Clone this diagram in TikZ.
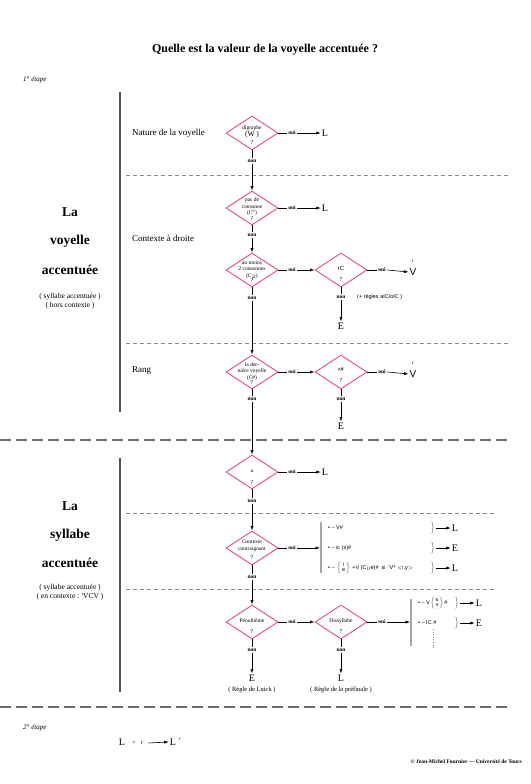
\documentclass[tikz,border=0pt]{standalone}
\usepackage{fontspec}
\setmainfont{Liberation Serif}
\setsansfont{Liberation Sans}
\usetikzlibrary{shapes.geometric,arrows.meta}
\definecolor{dpink}{RGB}{232,70,145}
\definecolor{barcol}{RGB}{85,85,85}
\definecolor{dashcol}{RGB}{140,140,140}
\newcommand{\myfs}[1]{\fontsize{#1}{#1}\selectfont}
\newcommand{\stk}[2]{$\color{gray}\left\{\color{black}\begin{array}{@{}c@{}}\mbox{#1}\\[-1.5pt]\mbox{#2}\end{array}\color{gray}\right\}$}
\newcommand{\bigrb}{$\color{gray}\left.\vphantom{\begin{array}{c}x\\x\end{array}}\right\}$}
\begin{document}
\begin{tikzpicture}[x=1pt,y=-1pt,
  dmd/.style={draw=dpink,line width=0.9pt,shape=diamond,minimum width=52pt,minimum height=34pt,inner sep=0pt},
  dtxt/.style={font=\fontsize{5.5}{6.5}\selectfont,align=center,inner sep=0pt},
  qm/.style={font=\fontsize{6}{6}\selectfont,inner sep=0pt},
  ouinon/.style={font=\fontsize{5.5}{6}\selectfont\bfseries,inner sep=1.5pt},
  res/.style={font=\fontsize{10}{10}\selectfont,inner sep=1pt},
  vres/.style={font=\sffamily\fontsize{10}{10}\selectfont,inner sep=1pt},
  sup/.style={font=\fontsize{5}{5}\selectfont,inner sep=0pt},
  lbl/.style={font=\fontsize{9}{10}\selectfont,anchor=west,inner sep=0pt},
  big/.style={font=\fontsize{13.5}{14}\selectfont\bfseries,inner sep=0pt},
  small/.style={font=\fontsize{7.5}{8}\selectfont,inner sep=0pt},
  note/.style={font=\fontsize{6.5}{7}\selectfont,inner sep=0pt},
  arr/.style={-{Latex[length=4.5pt,width=3.2pt]},line width=0.6pt},
  ln/.style={line width=0.6pt},
  thindash/.style={draw=dashcol,line width=0.7pt,dash pattern=on 4pt off 3pt},
  thickdash/.style={draw=barcol!85,line width=1.6pt,dash pattern=on 11pt off 5pt},
  vbar/.style={draw=barcol,line width=2pt},
  rbar/.style={draw=gray!70,line width=1.3pt},
  rulet/.style={font=\sffamily\fontsize{5.5}{6.5}\selectfont,anchor=west,inner sep=0pt},
  brc/.style={font=\sffamily\fontsize{5.5}{6.5}\selectfont,inner sep=0pt},
  ]
\useasboundingbox (0,0) rectangle (530,784);

% title and step
\node[font=\bfseries\myfs{12}] (title) at (265,50) {Quelle est la valeur de la voyelle accentuée ?};
\node[font=\itshape\myfs{7},anchor=west,inner sep=0pt] (et1) at (23,80) {1° étape};

% bars and separators
\coordinate (vb1t) at (120,92); \coordinate (vb1b) at (120,412);
\draw[vbar] (vb1t) -- (vb1b);
\coordinate (vb2t) at (120,458); \coordinate (vb2b) at (120,692);
\draw[vbar] (vb2t) -- (vb2b);
\coordinate (s1a) at (126,175); \coordinate (s1b) at (510,175);
\draw[thindash] (s1a) -- (s1b);
\coordinate (s2a) at (126,343); \coordinate (s2b) at (510,343);
\draw[thindash] (s2a) -- (s2b);
\coordinate (s3a) at (0,440); \coordinate (s3b) at (510,440);
\draw[thickdash] (s3a) -- (s3b);
\coordinate (s4a) at (126,513); \coordinate (s4b) at (497,513);
\draw[thindash] (s4a) -- (s4b);
\coordinate (s5a) at (126,589); \coordinate (s5b) at (497,589);
\draw[thindash] (s5a) -- (s5b);
\coordinate (s6a) at (0,707); \coordinate (s6b) at (510,707);
\draw[thickdash] (s6a) -- (s6b);

% left labels
\node[big] (la1) at (70,212) {La};
\node[big] (vo1) at (70,241) {voyelle};
\node[big] (ac1) at (70,270) {accentuée};
\node[small] (sm1) at (70,297) {( syllabe accentuée )};
\node[small] (sm2) at (70,306) {( hors contexte )};
\node[big] (la2) at (70,506) {La};
\node[big] (sy2) at (70,535) {syllabe};
\node[big] (ac2) at (70,563) {accentuée};
\node[small] (sm3) at (70,588) {( syllabe accentuée )};
\node[small] (sm4) at (70,597) {( en contexte : \textquotesingle VCV )};

\node[lbl] (nat) at (132,133) {Nature de la voyelle};
\node[lbl] (ctx) at (132,238) {Contexte à droite};
\node[lbl] (rang) at (132,371) {Rang};

% ---- diamond 1
\node[dmd] (d1) at (252,133) {};
\node[dtxt] (t1) at (252,132) {digraphe\\{\myfs{7.5}(W )}};
\node[qm] (q1) at (252,142.5) {?};
\node[ouinon] (o1) at (292,133) {oui};
\node[res] (L1) at (325,133) {L};
\draw[ln] (d1.east) -- (o1.west);
\draw[arr] (o1.east) -- (L1.west);
\node[ouinon] (n1) at (252,161) {non};
\draw[ln] (d1.south) -- (n1.north);

% ---- diamond 2
\node[dmd] (d2) at (252,208) {};
\node[dtxt] (t2) at (252,207) {pas de\\consonne\\(C\textsuperscript{0})};
\node[qm] (q2) at (252,219) {?};
\draw[arr] (n1.south) -- (d2.north);
\node[ouinon] (o2) at (292,208) {oui};
\node[res] (L2) at (325,208) {L};
\draw[ln] (d2.east) -- (o2.west);
\draw[arr] (o2.east) -- (L2.west);
\node[ouinon] (n2) at (252,235) {non};
\draw[ln] (d2.south) -- (n2.north);

% ---- diamond 3
\node[dmd] (d3) at (252,270) {};
\node[dtxt] (t3) at (252,269.5) {au moins\\2 consonnes\\(C$_2$)};
\node[qm] (q3) at (252,281) {?};
\draw[arr] (n2.south) -- (d3.north);
\node[ouinon] (o3) at (292,270) {oui};
\draw[ln] (d3.east) -- (o3.west);
\node[dmd] (d4) at (341,270) {};
\node[dtxt,font=\sffamily\fontsize{6}{7}\selectfont] (t4) at (341,268) {rC};
\node[qm] (q4) at (341,280) {?};
\draw[arr] (o3.east) -- (d4.west);
\node[ouinon] (o4) at (382,270) {oui};
\draw[ln] (d4.east) -- (o4.west);
\node[vres] (V1) at (413,272) {V};
\node[sup] (V1r) at (413,261) {r};
\draw[arr] (o4.east) -- (V1.west);
\node[ouinon] (n4) at (341,297) {non};
\draw[ln] (d4.south) -- (n4.north);
\node[font=\sffamily\fontsize{5.5}{6}\selectfont,anchor=west,inner sep=0pt] (rg) at (357,297) {(+ règles aIC/oIC )};
\node[res] (E1) at (341,326) {E};
\draw[arr] (n4.south) -- (E1.north);
\node[ouinon] (n3) at (252,298) {non};
\draw[ln] (d3.south) -- (n3.north);

% ---- diamond 5
\node[dmd] (d5) at (252,372) {};
\node[dtxt] (t5) at (252,371.5) {la der-\\nière voyelle\\(C\#)};
\node[qm] (q5) at (252,383) {?};
\draw[arr] (n3.south) -- (d5.north);
\node[ouinon] (o5) at (292,372) {oui};
\draw[ln] (d5.east) -- (o5.west);
\node[dmd] (d6) at (341,372) {};
\node[dtxt,font=\sffamily\fontsize{6}{7}\selectfont] (t6) at (341,369) {r\#};
\node[qm] (q6) at (341,381) {?};
\draw[arr] (o5.east) -- (d6.west);
\node[ouinon] (o6) at (382,372) {oui};
\draw[ln] (d6.east) -- (o6.west);
\node[vres] (V2) at (413,374) {V};
\node[sup] (V2r) at (413,363) {r};
\draw[arr] (o6.east) -- (V2.west);
\node[ouinon] (n6) at (341,399) {non};
\draw[ln] (d6.south) -- (n6.north);
\node[res] (E2) at (341,426) {E};
\draw[arr] (n6.south) -- (E2.north);
\node[ouinon] (n5) at (252,399) {non};
\draw[ln] (d5.south) -- (n5.north);

% ---- diamond 7
\node[dmd] (d7) at (252,472) {};
\node[dtxt] (t7) at (252,471) {u};
\node[qm] (q7) at (252,483) {?};
\draw[arr] (n5.south) -- (d7.north);
\node[ouinon] (o7) at (292,472) {oui};
\node[res] (L3) at (325,472) {L};
\draw[ln] (d7.east) -- (o7.west);
\draw[arr] (o7.east) -- (L3.west);
\node[ouinon] (n7) at (252,501) {non};
\draw[ln] (d7.south) -- (n7.north);

% ---- diamond 8
\node[dmd] (d8) at (252,548) {};
\node[dtxt] (t8) at (252,546) {Contexte\\contraignant};
\node[qm] (q8) at (252,558) {?};
\draw[arr] (n7.south) -- (d8.north);
\node[ouinon] (o8) at (292,548) {oui};
\draw[ln] (d8.east) -- (o8.west);
\coordinate (rb1t) at (321,522); \coordinate (rb1b) at (321,573);
\draw[rbar] (rb1t) -- (rb1b);
\coordinate (rb1m) at (320,548);
\draw[arr] (o8.east) -- (rb1m);
\node[rulet] (r1) at (328,528) {• – V\#};
\node[rulet] (r2) at (328,548) {• – ic (s)\#};
\node[rulet] (r3) at (328,568) {• – \stk{i}{e} +V (C$_0$e)\#\ \ si \ \textquotesingle V* $<$i,y$>$};
\node[brc] (b1) at (432,528) {\bigrb};
\node[brc] (b2) at (432,548) {\bigrb};
\node[brc] (b3) at (432,568) {\bigrb};
\node[res] (L5) at (455,528) {L};
\node[res] (E5) at (455,548) {E};
\node[res] (L6) at (455,568) {L};
\draw[arr] (b1.east) -- (L5.west);
\draw[arr] (b2.east) -- (E5.west);
\draw[arr] (b3.east) -- (L6.west);
\node[ouinon] (n8) at (252,577) {non};
\draw[ln] (d8.south) -- (n8.north);

% ---- diamond 9
\node[dmd] (d9) at (252,622) {};
\node[dtxt] (t9) at (252,621) {Pénultième};
\node[qm] (q9) at (252,632) {?};
\draw[arr] (n8.south) -- (d9.north);
\node[ouinon] (o9) at (292,622) {oui};
\draw[ln] (d9.east) -- (o9.west);
\node[dmd] (d10) at (341,622) {};
\node[dtxt] (t10) at (341,621) {Dissyllabe};
\node[qm] (q10) at (341,632) {?};
\draw[arr] (o9.east) -- (d10.west);
\node[ouinon] (o10) at (382,622) {oui};
\draw[ln] (d10.east) -- (o10.west);
\coordinate (rb2t) at (411,599); \coordinate (rb2b) at (411,646);
\draw[rbar] (rb2t) -- (rb2b);
\coordinate (rb2m) at (410,622);
\draw[arr] (o10.east) -- (rb2m);
\node[rulet] (u1) at (418,603) {• – V\stk{s}{x}\#};
\node[rulet] (u2) at (418,623) {• – IC \#};
\node[brc] (b4) at (456,603) {\bigrb};
\node[brc] (b5) at (456,623) {\bigrb};
\node[res] (L7) at (479,603) {L};
\node[res] (E7) at (479,623) {E};
\draw[arr] (b4.east) -- (L7.west);
\draw[arr] (b5.east) -- (E7.west);
\coordinate (dt1) at (433,629); \coordinate (dt2) at (433,649);
\draw[gray,line width=0.6pt,dotted] (dt1) -- (dt2);

\node[ouinon] (n9) at (252,650) {non};
\draw[ln] (d9.south) -- (n9.north);
\node[res] (E3) at (252,678) {E};
\draw[arr] (n9.south) -- (E3.north);
\node[note] (luick) at (252,690) {( Règle de Luick )};
\node[ouinon] (n10) at (341,650) {non};
\draw[ln] (d10.south) -- (n10.north);
\node[res] (L4) at (341,678) {L};
\draw[arr] (n10.south) -- (L4.north);
\node[note] (pref) at (341,690) {( Règle de la préfinale )};

% ---- 2e etape
\node[font=\itshape\myfs{7},anchor=west,inner sep=0pt] (et2) at (23,728) {2° étape};
\node[res] (fL1) at (122,742) {L};
\node[font=\myfs{6},inner sep=0pt] (fplus) at (134,743) {+};
\node[font=\itshape\myfs{6},inner sep=0pt] (fr) at (142,743) {r};
\node[res] (fL2) at (173,742) {L};
\node[font=\itshape\myfs{5},inner sep=0pt] (fL2r) at (180,739) {r};
\draw[arr] ([xshift=5pt]fr.east) -- (fL2.west);

\node[font=\bfseries\myfs{5.5},anchor=east,inner sep=0pt] (copy) at (522,762) {© Jean-Michel Fournier — Université de Tours};
\end{tikzpicture}
\end{document}
